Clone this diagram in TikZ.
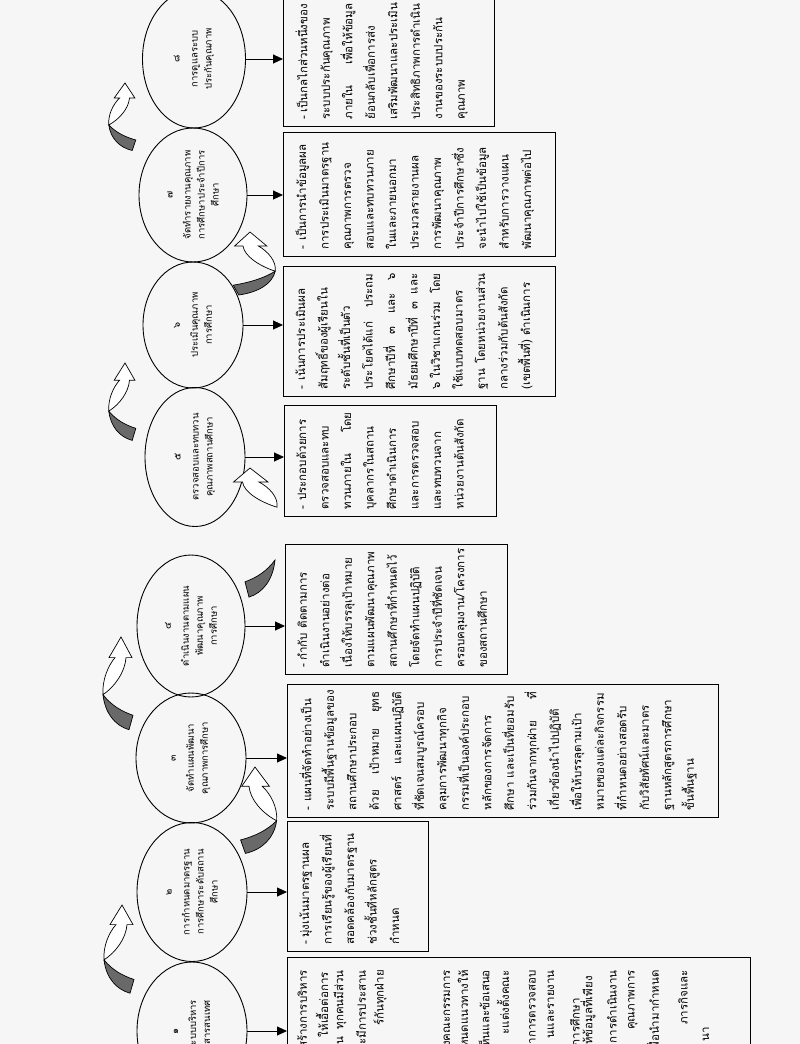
\documentclass[tikz,border=0pt]{standalone}
\usepackage{fontspec}
\newfontfamily\thaifont[Script=Thai]{Loma}
\usetikzlibrary{shapes.geometric,arrows.meta}

\definecolor{paper}{RGB}{246,246,246}
\definecolor{backgray}{RGB}{105,105,105}

\tikzset{
  stage/.style={ellipse, draw, line width=0.9pt, rotate=90, inner sep=0pt, align=center,
    font=\thaifont\fontsize{9.5}{14}\selectfont},
  infobox/.style={draw, line width=0.9pt, rotate=90, anchor=north west,
    inner xsep=7pt, inner ysep=12pt, font=\thaifont\fontsize{11.5}{22.5}\selectfont},
  frag/.style={rotate=90, anchor=east, inner sep=0pt, font=\thaifont\fontsize{11.5}{22.5}\selectfont},
  flow/.style={line width=0.9pt, -{Triangle[length=10pt,width=9pt]}},
}

% text of a box, top aligned: width, height, lines
\newcommand{\boxlines}[3]{\begin{minipage}[t][#2pt][t]{#1pt}\raggedright #3\end{minipage}}

% curved block arrow: front (white) and back (grey) half
\newcommand{\bendfront}[4]{%
  \begin{scope}[shift={(#1,#2)}, xscale=#3, yscale=#4]
    \filldraw[fill=white, line width=0.7pt] (0,0) -- (11,20) -- (5,20)
      .. controls (4,34) and (-6,48) .. (-18,56)
      .. controls (-19,42) and (-13,28) .. (-6,20) -- (-12,20) -- cycle;
  \end{scope}}
\newcommand{\bendback}[4]{%
  \begin{scope}[shift={(#1,#2)}, xscale=#3, yscale=#4]
    \filldraw[fill=backgray, line width=0.7pt] (-18,56)
      .. controls (-10,66) and (0,72) .. (12,76) -- (8,90)
      .. controls (-6,86) and (-16,74) .. cycle;
  \end{scope}}
\newcommand{\bendarrow}[4]{\bendfront{#1}{#2}{#3}{#4}\bendback{#1}{#2}{#3}{#4}}

\begin{document}
\begin{tikzpicture}[x=1pt, y=-1pt]
  \fill[paper] (0,0) rectangle (800,1044);
  \useasboundingbox (0,0) rectangle (800,1044);

  % stages, step 1 at the bottom
  \node[stage, minimum width=138, minimum height=103] (c8) at (194,59) {๘\\[4pt]การดูแลระบบ\\ประกันคุณภาพ};
  \node[stage, minimum width=134, minimum height=108] (c7) at (193,195) {๗\\[4pt]จัดทำรายงานคุณภาพ\\การศึกษาประจำปีการ\\ศึกษา};
  \node[stage, minimum width=126, minimum height=100] (c6) at (193,325) {๖\\[4pt]ประเมินคุณภาพ\\การศึกษา};
  \node[stage, minimum width=139, minimum height=100] (c5) at (195,457) {๕\\[4pt]ตรวจสอบและทบทวน\\คุณภาพสถานศึกษา};
  \node[stage, minimum width=142, minimum height=108] (c4) at (191,626) {๔\\[4pt]ดำเนินงานตามแผน\\พัฒนาคุณภาพ\\การศึกษา};
  \node[stage, minimum width=130, minimum height=110] (c3) at (191,758) {๓\\[4pt]จัดทำแผนพัฒนา\\คุณภาพการศึกษา};
  \node[stage, minimum width=139, minimum height=110] (c2) at (192,892) {๒\\[4pt]การกำหนดมาตรฐาน\\การศึกษาระดับสถาน\\ศึกษา};
  \node[stage, minimum width=138, minimum height=110] (c1) at (192,1031) {๑\\[4pt]จัดระบบบริหาร\\และสารสนเทศ};

  % boxes
  \node[infobox] (b8) at (283,127) {\boxlines{116}{187}{%
    \mbox{-\hspace{3pt}เป็นกลไกส่วนหนึ่งของ}\\ ระบบประกันคุณภาพ\\ ภายใน\hfill เพื่อให้ข้อมูล\\
    ย้อนกลับเพื่อการส่ง\\ เสริมพัฒนาและประเมิน\\ ประสิทธิภาพการดำเนิน\\ งานของระบบประกัน\\ คุณภาพ}};
  \node[infobox] (b7) at (283,257) {\boxlines{110}{248}{%
    -\hspace{5pt}เป็นการนำข้อมูลผล\\ การประเมินมาตรฐาน\\ คุณภาพการตรวจ\\ สอบและทบทวนภาย\\
    ในและภายนอกมา\\ ประมวลรายงานผล\\ การพัฒนาคุณภาพ\\ ประจำปีการศึกษาซึ่ง\\
    จะนำไปใช้เป็นข้อมูล\\ สำหรับการวางแผน\\ พัฒนาคุณภาพต่อไป}};
  \node[infobox] (b6) at (283,397) {\boxlines{116}{248}{%
    -\hspace{5pt}เน้นการประเมินผล\\ สัมฤทธิ์ของผู้เรียนใน\\ ระดับชั้นที่เป็นตัว\\
    ประโยคได้แก่\hfill ประถม\\ ศึกษาปีที่\hfill ๓\hfill และ\hfill ๖\\
    มัธยมศึกษาปีที่\hfill ๓\hfill และ\\ ๖ ในวิชาแกนร่วม\hfill โดย\\ ใช้แบบทดสอบมาตร\\
    ฐาน\hfill โดยหน่วยงานส่วน\\ กลางร่วมกับต้นสังกัด\\ (เขตพื้นที่) ดำเนินการ}};
  \node[infobox] (b5) at (284,517) {\boxlines{97}{188}{%
    -\hspace{5pt}ประกอบด้วยการ\\ ตรวจสอบและทบ\\ ทวนภายใน\hfill โดย\\ บุคลากรในสถาน\\
    ศึกษาดำเนินการ\\ และการตรวจสอบ\\ และทบทวนจาก\\ หน่วยงานต้นสังกัด}};
  \node[infobox] (b4) at (285,675) {\boxlines{116}{198}{%
    -\hspace{3pt}กำกับ\hspace{5pt}ติดตามการ\\ ดำเนินงานอย่างต่อ\\ เนื่องให้บรรลุเป้าหมาย\\
    ตามแผนพัฒนาคุณภาพ\\ สถานศึกษาที่กำหนดไว้\\ โดยจัดทำแผนปฏิบัติ\\
    การประจำปีที่ชัดเจน\\ ครอบคลุมงาน/โครงการ\\ ของสถานศึกษา}};
  \node[infobox] (b3) at (287,818) {\boxlines{119}{407}{%
    -\hspace{5pt}แผนที่จัดทำอย่างเป็น\\ ระบบมีพื้นฐานข้อมูลของ\\ สถานศึกษาประกอบ\\
    ด้วย\hfill เป้าหมาย\hfill ยุทธ\\ ศาสตร์\hfill และแผนปฏิบัติ\\ ที่ชัดเจนสมบูรณ์ครอบ\\
    คลุมการพัฒนาทุกกิจ\\ กรรมที่เป็นองค์ประกอบ\\ หลักของการจัดการ\\
    ศึกษา และเป็นที่ยอมรับ\\ ร่วมกันจากทุกฝ่าย\hfill ที่\\ เกี่ยวข้องนำไปปฏิบัติ\\
    เพื่อให้บรรลุตามเป้า\\ หมายของแต่ละกิจกรรม\\ ที่กำหนดอย่างสอดรับ\\
    กับวิสัยทัศน์และมาตร\\ ฐานหลักสูตรการศึกษา\\ ขั้นพื้นฐาน}};
  \node[infobox] (b2) at (287,952) {\boxlines{116}{117}{%
    -\hspace{3pt}มุ่งเน้นมาตรฐานผล\\ การเรียนรู้ของผู้เรียนที่\\ สอดคล้องกับมาตรฐาน\\
    ช่วงชั้นที่หลักสูตร\\ กำหนด}};
  \node[infobox, minimum width=152, minimum height=463] (b1) at (287,1110) {};

  % what shows of box 1 above the page edge
  \foreach \x/\y/\t [count=\i] in {302/970/สร้างการบริหาร, 322/972/ให้เอื้อต่อการ,
      340/970/{น~~ทุกคนมีส่วน}, 361/970/ะมีการประสาน, 380/970/ร์กันทุกฝ่าย,
      444/970/ตั้งคณะกรรมการ, 463/970/หนดแนวทางให้, 484/970/ห็นและข้อเสนอ,
      503/970/ะแต่งตั้งคณะ, 531/970/ทำการตรวจสอบ, 551/970/นและรายงาน,
      575/998/การศึกษา, 588/976/ให้ข้อมูลที่เพียง, 612/970/การดำเนินงาน,
      633/970/คุณภาพการ, 653/970/พื่อนำมากำหนด, 683/970/ภารกิจและ, 706/1027/นา}
    \node[frag] (f\i) at (\x,\y) {\t};

  % stage to box
  \foreach \n in {1,...,8}
    \draw[flow] (c\n.south) -- (c\n.south -| b\n.north);

  % curved arrows between stages
  \bendarrow{125}{83}{0.9}{0.75}
  \bendarrow{250}{232}{-1.4}{0.7}
  \bendarrow{125}{363}{0.9}{0.86}
  \bendfront{250}{468}{-1.5}{0.7}
  \bendback{257}{499}{-1}{1.09}
  \bendarrow{121}{637}{1}{1.03}
  \bendarrow{255}{767}{-1.2}{0.96}
  \bendarrow{122}{905}{1}{0.98}
\end{tikzpicture}
\end{document}
